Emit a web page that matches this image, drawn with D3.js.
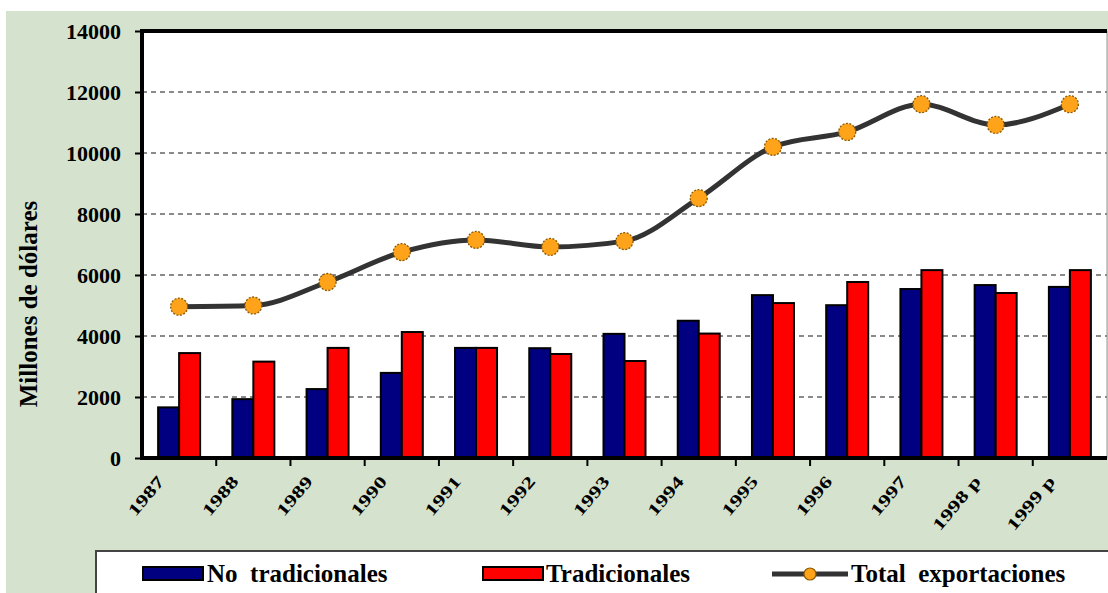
<!DOCTYPE html>
<html><head><meta charset="utf-8">
<script src="https://cdn.jsdelivr.net/npm/d3@7"></script>
<style>
body{margin:0;background:#fff;}
svg{display:block;}
text{font-family:"Liberation Serif","Times New Roman",serif;font-weight:bold;fill:#000;white-space:pre;}
</style></head>
<body>
<svg id="chart" width="1108" height="593"></svg>
<script>
const years = ["1987","1988","1989","1990","1991","1992","1993","1994","1995","1996","1997","1998 p","1999 p"];
const noTradicionales = [1660,1930,2260,2790,3610,3600,4070,4500,5340,5010,5540,5670,5610];
const tradicionales = [3440,3160,3610,4130,3610,3410,3180,4080,5080,5770,6160,5410,6160];
const totalExport = [4960,5000,5770,6750,7150,6920,7110,8520,10200,10690,11600,10920,11600];
const yTicks = [0,2000,4000,6000,8000,10000,12000,14000];
const seriesNames = ["No  tradicionales","Tradicionales","Total  exportaciones"];

const svg = d3.select("#chart");
const W = 1108, H = 593;
const plot = {left:142, right:1107, top:31, bottom:458};

svg.append("rect").attr("x",0).attr("y",0).attr("width",W).attr("height",H).attr("fill","#fff");
svg.append("rect").attr("x",6).attr("y",11).attr("width",W-6).attr("height",H-11).attr("fill","#D5E2CD");

const x = d3.scaleBand().domain(years).range([plot.left, plot.right]).paddingInner(0).paddingOuter(0);
const y = d3.scaleLinear().domain([0,14000]).range([plot.bottom, plot.top]);
const inner = d3.scaleBand().domain([0,1]).range([0,42]).padding(0);

svg.append("rect").attr("x",plot.left).attr("y",plot.top).attr("width",plot.right-plot.left).attr("height",plot.bottom-plot.top).attr("fill","#fff");
svg.append("line").attr("x1",plot.right).attr("x2",plot.right).attr("y1",plot.top).attr("y2",plot.bottom).attr("stroke","#999").attr("stroke-width",1);

svg.append("g").selectAll("line").data(yTicks.filter(d=>d>0 && d<14000)).join("line")
  .attr("x1",plot.left).attr("x2",plot.right).attr("y1",d=>y(d)).attr("y2",d=>y(d))
  .attr("stroke","#8a8a8a").attr("stroke-width",1.8).attr("stroke-dasharray","5,4");

const off = (x.bandwidth()-42)/2;
const g = svg.append("g");
g.selectAll(".nt").data(years).join("rect")
  .attr("x",(d)=>x(d)+off+inner(0)).attr("y",(d,i)=>y(noTradicionales[i]))
  .attr("width",inner.bandwidth()).attr("height",(d,i)=>y(0)-y(noTradicionales[i]))
  .attr("fill","#000080").attr("stroke","#000").attr("stroke-width",2);
g.selectAll(".tr").data(years).join("rect")
  .attr("x",(d)=>x(d)+off+inner(1)).attr("y",(d,i)=>y(tradicionales[i]))
  .attr("width",inner.bandwidth()).attr("height",(d,i)=>y(0)-y(tradicionales[i]))
  .attr("fill","#FF0000").attr("stroke","#000").attr("stroke-width",2);

svg.append("line").attr("x1",plot.left).attr("x2",plot.right).attr("y1",plot.top).attr("y2",plot.top).attr("stroke","#000").attr("stroke-width",4);
svg.append("line").attr("x1",plot.left).attr("x2",plot.left).attr("y1",plot.top-2).attr("y2",plot.bottom+2).attr("stroke","#000").attr("stroke-width",4);
svg.append("line").attr("x1",plot.left).attr("x2",plot.right).attr("y1",plot.bottom).attr("y2",plot.bottom).attr("stroke","#000").attr("stroke-width",4);

const ya = svg.append("g").attr("transform",`translate(${plot.left},0)`)
  .call(d3.axisLeft(y).tickValues(yTicks).tickSize(7).tickPadding(14).tickFormat(d3.format("d")));
ya.select(".domain").remove();
ya.selectAll(".tick line").attr("stroke","#000").attr("stroke-width",2);
ya.selectAll(".tick text").style("font-size","22px").style("font-family","'Liberation Serif',serif").style("font-weight","bold").attr("fill","#000");

svg.append("g").selectAll("line").data(years.slice(1)).join("line")
  .attr("x1",d=>x(d)).attr("x2",d=>x(d)).attr("y1",plot.bottom).attr("y2",plot.bottom+8)
  .attr("stroke","#000").attr("stroke-width",2);
svg.append("g").selectAll("text").data(years).join("text")
  .attr("transform",d=>`translate(${x(d)+x.bandwidth()/2-14},${plot.bottom+24}) rotate(-50) scale(1.1,0.8)`)
  .attr("text-anchor","end").style("font-size","21px").text(d=>d);

svg.append("text").attr("transform","translate(37,304) rotate(-90)").attr("text-anchor","middle")
  .style("font-size","25px").text("Millones de dólares");

const cx = d=>x(d)+x.bandwidth()/2;
const line = d3.line().x((d,i)=>cx(years[i])).y(d=>y(d)).curve(d3.curveMonotoneX);
svg.append("path").attr("d",line(totalExport)).attr("fill","none").attr("stroke","#333").attr("stroke-width",5);
svg.append("g").selectAll("circle").data(totalExport).join("circle")
  .attr("cx",(d,i)=>cx(years[i])).attr("cy",d=>y(d)).attr("r",8.5)
  .attr("fill","#FFA31A").attr("stroke","#8a5a00").attr("stroke-width",1.3).attr("stroke-dasharray","2,1.5");

const lg = svg.append("g");
lg.append("rect").attr("x",96).attr("y",551).attr("width",1030).attr("height",60).attr("fill","#fff").attr("stroke","#444").attr("stroke-width",2);
const ly = 574;
lg.append("rect").attr("x",143).attr("y",567).attr("width",60).attr("height",13).attr("fill","#000080").attr("stroke","#000").attr("stroke-width",2);
lg.append("text").attr("x",207).attr("y",582).style("font-size","25px").text(seriesNames[0]);
lg.append("rect").attr("x",483).attr("y",567).attr("width",60).attr("height",13).attr("fill","#FF0000").attr("stroke","#000").attr("stroke-width",2);
lg.append("text").attr("x",546).attr("y",582).style("font-size","25px").text(seriesNames[1]);
lg.append("line").attr("x1",772).attr("x2",848).attr("y1",ly).attr("y2",ly).attr("stroke","#333").attr("stroke-width",5);
lg.append("circle").attr("cx",810).attr("cy",ly).attr("r",6).attr("fill","#FFA31A").attr("stroke","#8a5a00").attr("stroke-width",1.2);
lg.append("text").attr("x",851).attr("y",582).style("font-size","25px").text(seriesNames[2]);
</script>
</body></html>
